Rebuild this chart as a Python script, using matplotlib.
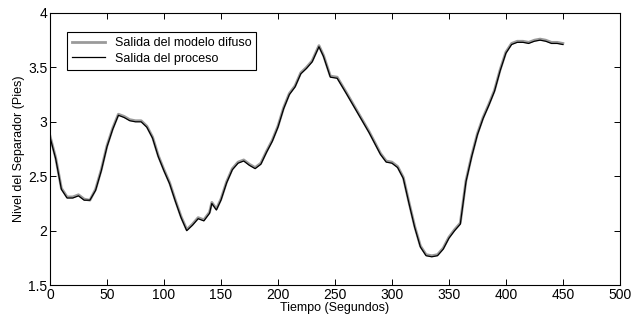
import numpy as np
import matplotlib.pyplot as plt

plt.rcParams['font.family'] = ['Liberation Sans', 'DejaVu Sans']

# Tiempo (s) y nivel del separador (pies)
tiempo = [0, 5, 10, 15, 20, 25, 30, 35, 40, 45, 50, 55, 60, 65, 70, 75, 80, 85, 90, 95,
          100, 105, 110, 115, 120, 125, 130, 135, 140, 142, 146, 150, 155, 160, 165, 170,
          175, 180, 185, 190, 195, 200, 205, 210, 215, 220, 225, 230, 236, 240, 246, 252,
          260, 270, 280, 290, 295, 300, 305, 310, 315, 320, 325, 330, 335, 340, 345, 350,
          355, 360, 365, 370, 375, 380, 385, 390, 395, 400, 405, 410, 415, 420, 425, 430,
          435, 440, 445, 450]

proceso = [2.86, 2.66, 2.38, 2.30, 2.30, 2.32, 2.28, 2.28, 2.37, 2.55, 2.77, 2.93, 3.06, 3.04,
           3.01, 3.00, 3.00, 2.95, 2.85, 2.68, 2.55, 2.43, 2.27, 2.12, 2.00, 2.05, 2.11, 2.09,
           2.16, 2.25, 2.19, 2.28, 2.44, 2.56, 2.62, 2.64, 2.60, 2.57, 2.61, 2.72, 2.82, 2.95,
           3.12, 3.25, 3.32, 3.44, 3.49, 3.55, 3.69, 3.60, 3.41, 3.40, 3.26, 3.08, 2.90, 2.70,
           2.63, 2.62, 2.58, 2.48, 2.25, 2.03, 1.85, 1.77, 1.76, 1.77, 1.83, 1.93, 2.00, 2.06,
           2.45, 2.68, 2.88, 3.03, 3.15, 3.28, 3.47, 3.63, 3.71, 3.73, 3.73, 3.72, 3.74, 3.75,
           3.74, 3.72, 3.72, 3.71]

modelo = [2.87, 2.67, 2.39, 2.31, 2.31, 2.33, 2.29, 2.28, 2.38, 2.56, 2.78, 2.94, 3.07, 3.05,
          3.02, 3.01, 3.01, 2.96, 2.86, 2.69, 2.56, 2.44, 2.28, 2.13, 2.01, 2.06, 2.12, 2.10,
          2.17, 2.26, 2.20, 2.29, 2.45, 2.57, 2.63, 2.65, 2.61, 2.58, 2.62, 2.73, 2.83, 2.96,
          3.13, 3.26, 3.33, 3.45, 3.50, 3.56, 3.70, 3.61, 3.42, 3.41, 3.27, 3.09, 2.91, 2.71,
          2.64, 2.63, 2.59, 2.49, 2.26, 2.04, 1.86, 1.78, 1.77, 1.78, 1.84, 1.94, 2.01, 2.07,
          2.46, 2.69, 2.89, 3.04, 3.16, 3.29, 3.48, 3.64, 3.72, 3.74, 3.74, 3.73, 3.75, 3.76,
          3.75, 3.73, 3.73, 3.72]

fig = plt.figure(figsize=(6.36, 3.24), dpi=100)
ax = fig.add_axes([0.0786, 0.120, 0.896, 0.840])

ax.plot(tiempo, modelo, color='#9a9a9a', linewidth=2.0, label='Salida del modelo difuso')
ax.plot(tiempo, proceso, color='black', linewidth=0.9, label='Salida del proceso')

ax.set_xlim(0, 500)
ax.set_ylim(1.5, 4)
ax.set_xticks(np.arange(0, 501, 50))
ax.set_yticks([1.5, 2, 2.5, 3, 3.5, 4])
ax.set_yticklabels(['1.5', '2', '2.5', '3', '3.5', '4'])
ax.tick_params(direction='in', top=True, right=True, labelsize=10, length=4, width=0.7, pad=2)
for s in ax.spines.values():
    s.set_linewidth(0.8)

ax.set_xlabel('Tiempo (Segundos)', fontsize=9, labelpad=0)
ax.set_ylabel('Nivel del Separador (Pies)', fontsize=9, labelpad=2)

leg = ax.legend(loc='upper left', bbox_to_anchor=(0.03, 0.93), borderaxespad=0,
                fancybox=False, edgecolor='black', framealpha=1, fontsize=9,
                handlelength=2.6, borderpad=0.4, labelspacing=0.3)
leg.get_frame().set_linewidth(0.8)

plt.savefig('out.png', dpi=100)
